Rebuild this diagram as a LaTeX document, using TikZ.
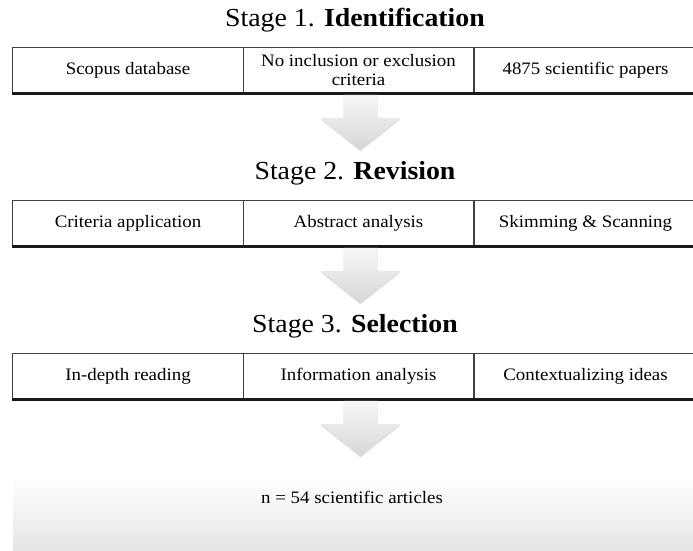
\documentclass[tikz,border=0pt]{standalone}
\usepackage{fontspec}
\setmainfont{Liberation Serif}
\newfontfamily\titlefont[FakeStretch=1.07]{Liberation Serif}
\newfontfamily\cellfont[FakeStretch=1.08]{Liberation Serif}
\usetikzlibrary{shadows,positioning}
\tikzstyle{stage} = [font=\titlefont\fontsize{26}{30}\selectfont, inner sep=0pt]
\tikzstyle{stagecell} = [draw=black!75, line width=0.8pt, align=center, minimum width=230.5pt, minimum height=46pt, inner sep=0pt, font=\cellfont\fontsize{17.5}{19}\selectfont]
\tikzstyle{rule} = [draw, line width=2.6pt, color=black!90]
\tikzstyle{blockarrow} = [top color=gray!6, bottom color=gray!32, draw=none, drop shadow={opacity=0.25, shadow xshift=0pt, shadow yshift=-1.5pt}]
\tikzstyle{result} = [font=\cellfont\fontsize{17.5}{19}\selectfont, inner sep=0pt]
\tikzstyle{fadebox} = [top color=white, bottom color=gray!20, draw=none]
\newcommand{\stagetitle}[2]{node (s#1) [stage] {#2}}
\newcommand{\stagecell}[2]{node (c#1) [stagecell] {#2}}
\newcommand{\stagearrow}[1]{([xshift=-15pt,yshift=-1.5pt]#1.south) -- ++(0,-23) -- ++(-23,0) -- ++(40,-32) -- ++(40,32) -- ++(-23,0) -- ++(0,23) -- cycle}

\begin{document}
\begin{tikzpicture}[x=1pt,y=1pt]
\useasboundingbox (0,0) rectangle (693,550);
\path [fadebox] (13,0) rectangle (693,74);

\path (355,530) \stagetitle{1}{Stage 1. \textbf{Identification}};
\path (s1)+(-227,-50) \stagecell{11}{Scopus database};
\path (c11)+(230.5,0) \stagecell{12}{No inclusion or exclusion\\criteria};
\path (c12)+(227,0) node (c13) [stagecell, minimum width=223pt] {4875 scientific papers};
\path [rule] (c11.south west) -- (c13.south east);
\path [blockarrow] \stagearrow{c12};

\path (s1)+(0,-153) \stagetitle{2}{Stage 2. \textbf{Revision}};
\path (s2)+(-227,-50) \stagecell{21}{Criteria application};
\path (c21)+(230.5,0) \stagecell{22}{Abstract analysis};
\path (c22)+(227,0) node (c23) [stagecell, minimum width=223pt] {Skimming \& Scanning};
\path [rule] (c21.south west) -- (c23.south east);
\path [blockarrow] \stagearrow{c22};

\path (s2)+(0,-153) \stagetitle{3}{Stage 3. \textbf{Selection}};
\path (s3)+(-227,-50) \stagecell{31}{In-depth reading};
\path (c31)+(230.5,0) \stagecell{32}{Information analysis};
\path (c32)+(227,0) node (c33) [stagecell, minimum width=223pt] {Contextualizing ideas};
\path [rule] (c31.south west) -- (c33.south east);
\path [blockarrow] \stagearrow{c32};

\path (s3)+(-3,-171) node (n) [result] {n = 54 scientific articles};
\end{tikzpicture}
\end{document}
